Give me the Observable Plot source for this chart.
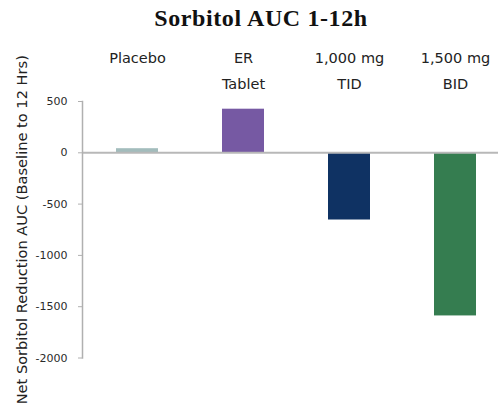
<!DOCTYPE html>
<html>
<head>
<meta charset="utf-8">
<script src="https://cdn.jsdelivr.net/npm/d3@7"></script>
<script src="https://cdn.jsdelivr.net/npm/@observablehq/plot@0.6"></script>
<style>
  html, body { margin: 0; padding: 0; background: #fff; }
  #wrap { position: relative; width: 498px; height: 412px; overflow: hidden; }
  #title { position: absolute; left: 0; width: 498px; top: 5px; text-align: center;
    font-family: "Liberation Serif", "Times New Roman", serif; font-weight: bold; font-size: 24px; letter-spacing: 0.6px; color: #111; padding-left: 24px; box-sizing: border-box; }
  #chart { position: absolute; left: 0; top: 0; }
</style>
</head>
<body>
<div id="wrap">
  <div id="chart"></div>
  <div id="title">Sorbitol AUC 1-12h</div>
</div>
<script>
const categories = ["Placebo", "ER Tablet", "1,000 mg TID", "1,500 mg BID"];
const categoryLabels = ["Placebo", "ER\nTablet", "1,000 mg\nTID", "1,500 mg\nBID"];
const values = [40, 425, -655, -1590];
const colors = ["#a3bcbc", "#7659a3", "#0f3263", "#357d50"];
const yTicks = [500, 0, -500, -1000, -1500, -2000];
const yLabel = "Net Sorbitol Reduction AUC (Baseline to 12 Hrs)";

const data = categories.map((c, i) => ({cat: c, label: categoryLabels[i], value: values[i], color: colors[i]}));

const plot = Plot.plot({
  width: 498,
  height: 412,
  marginLeft: 82,
  marginRight: 0,
  marginTop: 101,
  marginBottom: 54.5,
  style: {fontFamily: "DejaVu Sans, sans-serif", background: "transparent"},
  x: {domain: categories, range: [82, 511], paddingInner: 0.6, paddingOuter: 0.31, axis: null},
  y: {domain: [-2000, 500]},
  marks: [
    Plot.barY(data, {x: "cat", y: "value", fill: "color"}),
    Plot.ruleY([0], {stroke: "#b8b8b8", strokeWidth: 2}),
    Plot.frame({anchor: "left", stroke: "#b0b0b0", strokeWidth: 1.5}),
    Plot.axisY({ticks: yTicks, tickSize: 4, tickPadding: 11, stroke: "#b0b0b0", tickFormat: d => String(d), fontSize: 11, fill: "#2a2a2a", label: null}),
    Plot.text(data, {x: "cat", text: "label", frameAnchor: "top", lineAnchor: "top", dy: -57, lineHeight: 1.8, fontSize: 14.5, fill: "#222"}),
    Plot.text([yLabel], {text: d => d, frameAnchor: "left", textAnchor: "middle", lineAnchor: "middle", rotate: -90, dx: -60, dy: 0, fontSize: 14.6, fill: "#222"})
  ]
});
document.getElementById("chart").appendChild(plot);
</script>
</body>
</html>
